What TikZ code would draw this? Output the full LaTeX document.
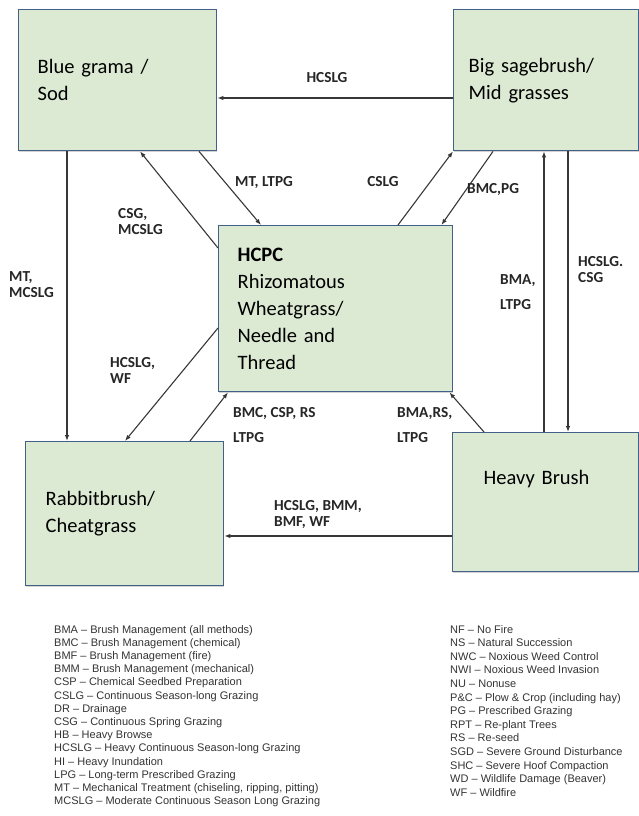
\documentclass[tikz,border=0pt]{standalone}
\usepackage{fontspec}
\setmainfont{Carlito}
\newfontfamily\legendfont{Liberation Sans}
\usetikzlibrary{arrows.meta,shadows}
\definecolor{sage}{RGB}{221,234,211}
\definecolor{slate}{RGB}{66,96,136}
\definecolor{ink}{RGB}{55,55,55}
\tikzset{
  >={Latex[length=6pt,width=4.5pt]},
  state/.style={draw=slate,fill=sage,line width=1.4pt,anchor=north west,
    inner xsep=19pt,align=left,font=\fontsize{20.5}{27}\selectfont,
    drop shadow={opacity=0.35,shadow xshift=0.6pt,shadow yshift=-1.2pt}},
  flow/.style={->,line width=1.1pt,draw=ink},
  tag/.style={font=\bfseries\fontsize{15.3}{16}\selectfont,text=black!85,
    align=left,inner sep=0pt},
  key/.style={font=\legendfont\fontsize{11}{13.2}\selectfont,text=black!80,
    align=left,inner sep=0pt,anchor=north west},
}
\begin{document}
\begin{tikzpicture}[x=1pt,y=-1pt]
  \useasboundingbox (0,0) rectangle (639,816);

  % states
  \node[state,text width=160pt,minimum width=198pt,minimum height=141pt] (sod) at (18,9)
    {Blue grama /\\Sod};
  \node[state,inner xsep=15pt,text width=155pt,minimum width=185pt,minimum height=141pt] (sage) at (453,9)
    {Big sagebrush/\\Mid grasses};
  \node[state,text width=196pt,minimum width=234pt,minimum height=166pt] (hcpc) at (218,225)
    {\textbf{HCPC}\\Rhizomatous\\Wheatgrass/\\Needle and\\Thread};
  \node[state,inner xsep=20pt,text width=158pt,minimum width=198pt,minimum height=144pt] (rabbit) at (25,441)
    {Rabbitbrush/\\Cheatgrass};
  \node[state,inner xsep=31pt,text width=124pt,minimum width=186pt,minimum height=139pt] (brush) at (452,432)
    {Heavy Brush\\[22pt]~};

  % transitions
  \draw[flow] ([yshift=-89pt]sage.north west) -- ([yshift=-89pt]sod.north east);
  \draw[flow] ([xshift=49pt]sod.south west) -- ([xshift=42pt]rabbit.north west);
  \draw[flow] ([xshift=181pt]sod.south west) -- ([xshift=43pt]hcpc.north west);
  \draw[flow] ([yshift=-23pt]hcpc.north west) -- ([xshift=122pt]sod.south west);
  \draw[flow] ([xshift=180pt]hcpc.north west) -- (sage.south west);
  \draw[flow] ([xshift=40pt]sage.south west) -- ([xshift=-12pt]hcpc.north east);
  \draw[flow] ([xshift=92pt]brush.north west) -- ([xshift=91pt]sage.south west);
  \draw[flow] ([xshift=115pt]sage.south west) -- ([xshift=116pt]brush.north west);
  \draw[flow] ([yshift=-103pt]hcpc.north west) -- ([xshift=100pt]rabbit.north west);
  \draw[flow] ([xshift=165pt]rabbit.north west) -- ([xshift=10pt]hcpc.south west);
  \draw[flow] ([xshift=32pt]brush.north west) -- ([xshift=-4pt]hcpc.south east);
  \draw[flow] ([yshift=-104pt]brush.north west) -- ([yshift=-95pt]rabbit.north east);

  % transition labels
  \node[tag] (t1) at (327,78) {HCSLG};
  \node[tag,anchor=west] (t2) at (9,285) {MT,\\MCSLG};
  \node[tag] (t3) at (264,183) {MT, LTPG};
  \node[tag,anchor=west] (t4) at (118,222) {CSG,\\MCSLG};
  \node[tag] (t5) at (383,182) {CSLG};
  \node[tag,anchor=west] (t6) at (467,190) {BMC,PG};
  \node[tag,anchor=west] (t7) at (500,292) {BMA,\\[9pt]LTPG};
  \node[tag,anchor=west] (t8) at (578,270) {HCSLG.\\CSG};
  \node[tag,anchor=west] (t9) at (110,370) {HCSLG,\\WF};
  \node[tag,anchor=west] (t10) at (233,425) {BMC, CSP, RS\\[9pt]LTPG};
  \node[tag,anchor=west] (t11) at (397,425) {BMA,RS,\\[9pt]LTPG};
  \node[tag,anchor=west] (t12) at (274,515) {HCSLG, BMM,\\BMF, WF};

  % legend
  \node[key] (keyL) at (54,625) {BMA – Brush Management (all methods)\\
    BMC – Brush Management (chemical)\\
    BMF – Brush Management (fire)\\
    BMM – Brush Management (mechanical)\\
    CSP – Chemical Seedbed Preparation\\
    CSLG – Continuous Season-long Grazing\\
    DR – Drainage\\
    CSG – Continuous Spring Grazing\\
    HB – Heavy Browse\\
    HCSLG – Heavy Continuous Season-long Grazing\\
    HI – Heavy Inundation\\
    LPG – Long-term Prescribed Grazing\\
    MT – Mechanical Treatment (chiseling, ripping, pitting)\\
    MCSLG – Moderate Continuous Season Long Grazing};
  \node[key,font=\legendfont\fontsize{11}{13.6}\selectfont] (keyR) at (450,625) {NF – No Fire\\
    NS – Natural Succession\\
    NWC – Noxious Weed Control\\
    NWI – Noxious Weed Invasion\\
    NU – Nonuse\\
    P\&C – Plow \& Crop (including hay)\\
    PG – Prescribed Grazing\\
    RPT – Re-plant Trees\\
    RS – Re-seed\\
    SGD – Severe Ground Disturbance\\
    SHC – Severe Hoof Compaction\\
    WD – Wildlife Damage (Beaver)\\
    WF – Wildfire};
\end{tikzpicture}
\end{document}
